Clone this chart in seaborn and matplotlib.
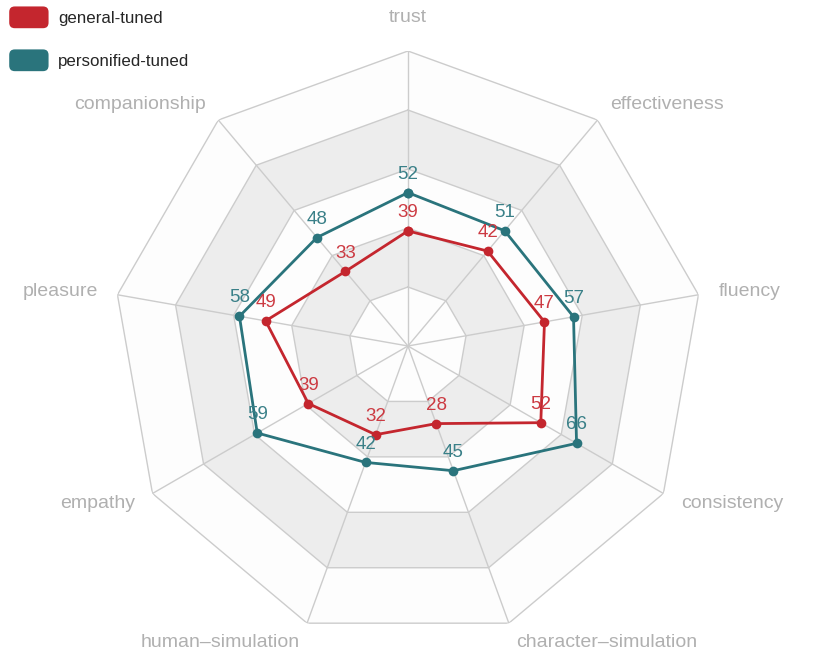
import numpy as np
import pandas as pd
import matplotlib
matplotlib.use('Agg')
import matplotlib.pyplot as plt
import seaborn as sns
from matplotlib.patches import Patch, FancyBboxPatch
from matplotlib.legend_handler import HandlerPatch

# -------------------- DATA --------------------
AXES_NAMES = ['trust', 'effectiveness', 'fluency', 'consistency', 'character\u2013simulation',
              'human\u2013simulation', 'empathy', 'pleasure', 'companionship']
SERIES = ['general-tuned', 'personified-tuned']
GENERAL = [39, 42, 47, 52, 28, 32, 39, 49, 33]
PERSONIFIED = [52, 51, 57, 66, 45, 42, 59, 58, 48]
MAX_VALUE = 100
COLORS = {'general-tuned': '#c4262e', 'personified-tuned': '#2a747c'}
LABEL_COLORS = {'general-tuned': '#cc3a42', 'personified-tuned': '#3a8088'}

sns.set_theme(style='white')
plt.rcParams['font.family'] = ['Liberation Sans', 'DejaVu Sans']

n = len(AXES_NAMES)
theta = np.linspace(0, 2 * np.pi, n, endpoint=False)

rows = []
for name, vals in zip(SERIES, [GENERAL, PERSONIFIED]):
    ths = theta.tolist() + [2 * np.pi]
    for t, v in zip(ths, list(vals) + [vals[0]]):
        rows.append({'series': name, 'theta': t, 'value': v})
df = pd.DataFrame(rows)

fig = plt.figure(figsize=(8.3, 6.7), dpi=100)
ax = fig.add_axes([0.1361, 0.0433, 0.7108, 0.8806], projection='polar')
ax.set_theta_offset(np.pi / 2)
ax.set_theta_direction(-1)
ax.set_ylim(0, MAX_VALUE)
ax.grid(False)
ax.set_xticks([])
ax.set_yticks([])
ax.spines['polar'].set_visible(False)
ax.patch.set_alpha(0)

# -------------------- GRID --------------------
closed = np.append(theta, theta[0])
levels = np.linspace(0, MAX_VALUE, 6)
ring_colors = ['#fdfdfd', '#ededed']
for k in range(5):
    r0, r1 = levels[k], levels[k + 1]
    th = np.concatenate([closed, closed[::-1]])
    rr = np.concatenate([np.full(n + 1, r1), np.full(n + 1, r0)])
    ax.fill(th, rr, color=ring_colors[k % 2], lw=0, zorder=0)
    ax.plot(closed, np.full(n + 1, r1), color='#cccccc', lw=1, zorder=1)
for t in theta:
    ax.plot([t, t], [0, MAX_VALUE], color='#cccccc', lw=1, zorder=1)

# -------------------- SERIES --------------------
sns.lineplot(data=df, x='theta', y='value', hue='series', palette=COLORS, sort=False,
             estimator=None, units='series', marker='o', markersize=7, markeredgewidth=0,
             linewidth=2, legend=False, ax=ax, zorder=3)
ax.set_xlabel('')
ax.set_ylabel('')

for name, vals in zip(SERIES, [GENERAL, PERSONIFIED]):
    for t, v in zip(theta, vals):
        ax.annotate(str(v), (t, v), xytext=(0, 10), textcoords='offset points',
                    ha='center', va='baseline', fontsize=13.5, color=LABEL_COLORS[name], zorder=5)

# -------------------- AXIS NAMES --------------------
gap = 14.5  # points
for t, label in zip(theta, AXES_NAMES):
    dx, dy = np.sin(t), np.cos(t)
    ha = 'left' if dx > 0.01 else ('right' if dx < -0.01 else 'center')
    if abs(dx) < 0.01:
        va, off = 'bottom', (0, 18)
    else:
        va, off = 'center', (gap * dx, gap * dy)
    ax.annotate(label, (t, MAX_VALUE), xytext=off, textcoords='offset points',
                ha=ha, va=va, fontsize=14, color='#b0b0b0', annotation_clip=False)

# -------------------- LEGEND --------------------
class RoundBox(HandlerPatch):
    def create_artists(self, legend, orig_handle, xdescent, ydescent, width, height, fontsize, trans):
        p = FancyBboxPatch((-xdescent + 2, -ydescent), width - 4, height,
                           boxstyle='round,pad=0,rounding_size=4',
                           facecolor=orig_handle.get_facecolor(), edgecolor='none', transform=trans)
        return [p]

handles = [Patch(facecolor=COLORS[s], label=s) for s in SERIES]
fig.legend(handles=handles, loc='upper left', bbox_to_anchor=(0.0, 1.0), frameon=False,
           fontsize=12.2, handlelength=2.65, handleheight=1.6, handletextpad=0.4,
           labelspacing=1.25, borderpad=0.0, borderaxespad=0.38,
           handler_map={Patch: RoundBox()})

fig.savefig('out.png', dpi=100, facecolor='white')
